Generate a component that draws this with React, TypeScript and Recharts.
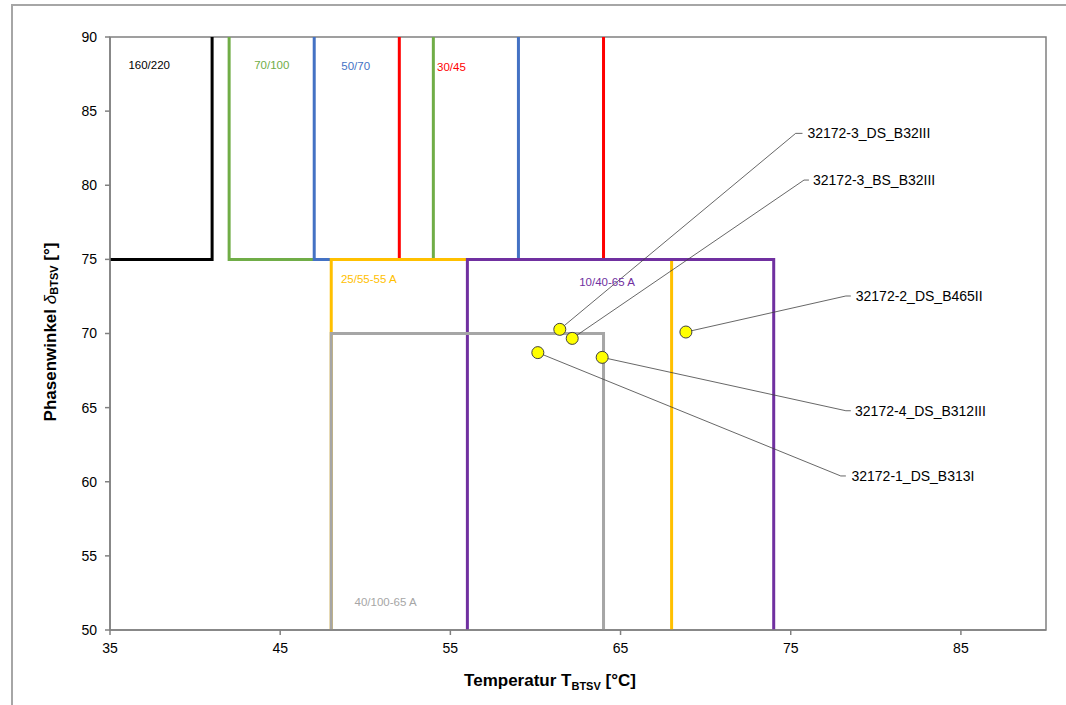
import React from 'react';
import { ComposedChart, Line, Scatter, XAxis, YAxis, ReferenceArea, Label } from 'recharts';

// ---- data ----
const xTicks = [35, 45, 55, 65, 75, 85];
const yTicks = [50, 55, 60, 65, 70, 75, 80, 85, 90];

// Grade boxes (temperature / phase angle outlines)
const box160_220 = [{ x: 35, y: 75 }, { x: 41, y: 75 }, { x: 41, y: 90 }];
const box70_100 = [{ x: 42, y: 90 }, { x: 42, y: 75 }, { x: 54, y: 75 }, { x: 54, y: 90 }];
const box50_70 = [{ x: 47, y: 90 }, { x: 47, y: 75 }, { x: 59, y: 75 }, { x: 59, y: 90 }];
const box30_45 = [{ x: 52, y: 90 }, { x: 52, y: 75 }, { x: 64, y: 75 }, { x: 64, y: 90 }];
const box25_55_55A = [{ x: 48, y: 50 }, { x: 48, y: 75 }, { x: 68, y: 75 }, { x: 68, y: 50 }];
const box10_40_65A = [{ x: 56, y: 50 }, { x: 56, y: 75 }, { x: 74, y: 75 }, { x: 74, y: 50 }];
const box40_100_65A = [{ x: 48, y: 50 }, { x: 48, y: 70 }, { x: 64, y: 70 }, { x: 64, y: 50 }];

const boxLabels = [
  { name: '160/220', x: 36.08, y: 88.11 },
  { name: '70/100', x: 43.47, y: 88.11 },
  { name: '50/70', x: 48.59, y: 88.07 },
  { name: '30/45', x: 54.22, y: 87.95 },
  { name: '25/55-55 A', x: 48.57, y: 73.65 },
  { name: '10/40-65 A', x: 62.57, y: 73.47 },
  { name: '40/100-65 A', x: 49.37, y: 51.91 },
];

// Samples
const samples = [
  { name: '32172-3_DS_B32III', x: 61.43, y: 70.28 },
  { name: '32172-3_BS_B32III', x: 62.16, y: 69.67 },
  { name: '32172-2_DS_B465II', x: 68.84, y: 70.1 },
  { name: '32172-4_DS_B312III', x: 63.92, y: 68.39 },
  { name: '32172-1_DS_B313I', x: 60.14, y: 68.71 },
];

// Label anchors for samples
const sampleLabels = [
  { name: '32172-3_DS_B32III', x: 75.98, y: 83.5 },
  { name: '32172-3_BS_B32III', x: 76.31, y: 80.35 },
  { name: '32172-2_DS_B465II', x: 78.82, y: 72.53 },
  { name: '32172-4_DS_B312III', x: 78.78, y: 64.79 },
  { name: '32172-1_DS_B313I', x: 78.57, y: 60.39 },
];

// Leader lines (point -> elbow -> end)
const leader1 = [{ x: 61.43, y: 70.28 }, { x: 75.29, y: 83.5 }, { x: 75.69, y: 83.5 }];
const leader2 = [{ x: 62.16, y: 69.67 }, { x: 75.78, y: 80.35 }, { x: 76.07, y: 80.35 }];
const leader3 = [{ x: 68.84, y: 70.1 }, { x: 78.24, y: 72.53 }, { x: 78.53, y: 72.53 }];
const leader4 = [{ x: 63.92, y: 68.39 }, { x: 78.24, y: 64.79 }, { x: 78.53, y: 64.79 }];
const leader5 = [{ x: 60.14, y: 68.71 }, { x: 77.94, y: 60.39 }, { x: 78.24, y: 60.39 }];

// ---- styles ----
const FONT = '"Liberation Sans", Arial, sans-serif';
const gradeColors: Record<string, string> = {
  '160/220': '#000000',
  '70/100': '#70AD47',
  '50/70': '#4472C4',
  '30/45': '#FF0000',
  '25/55-55 A': '#FFC000',
  '10/40-65 A': '#7030A0',
  '40/100-65 A': '#A6A6A6',
};

const boxes: { key: string; data: { x: number; y: number }[]; width: number }[] = [
  { key: '160/220', data: box160_220, width: 3 },
  { key: '70/100', data: box70_100, width: 3 },
  { key: '50/70', data: box50_70, width: 3 },
  { key: '30/45', data: box30_45, width: 3 },
  { key: '25/55-55 A', data: box25_55_55A, width: 3 },
  { key: '10/40-65 A', data: box10_40_65A, width: 3 },
  { key: '40/100-65 A', data: box40_100_65A, width: 3 },
];

const leaders = [leader1, leader2, leader3, leader4, leader5];

const BoxLabelShape = (props: any) => {
  const { cx, cy, payload } = props;
  return (
    <text x={cx} y={cy} dy="0.35em" textAnchor="start" fontSize={11.5} fontFamily={FONT} fill={gradeColors[payload.name]}>
      {payload.name}
    </text>
  );
};

const SampleLabelShape = (props: any) => {
  const { cx, cy, payload } = props;
  return (
    <text x={cx} y={cy} dy="0.35em" textAnchor="start" fontSize={14} fontFamily={FONT} fill="#000">
      {payload.name}
    </text>
  );
};

const PointShape = (props: any) => {
  const { cx, cy } = props;
  return <circle cx={cx} cy={cy} r={6} fill="#FFFF00" stroke="#404040" strokeWidth={1} />;
};

const XTitle = () => (
  <text x={550} y={686} textAnchor="middle" fontSize={17} fontWeight="bold" fontFamily={FONT} fill="#000">
    Temperatur T
    <tspan fontSize={11} dy={4}>BTSV</tspan>
    <tspan dy={-4}> [°C]</tspan>
  </text>
);

const YTitle = () => (
  <text
    x={50}
    y={332}
    transform="rotate(-90, 50, 332)"
    textAnchor="middle"
    dominantBaseline="central"
    fontSize={17}
    fontWeight="bold"
    fontFamily={FONT}
    fill="#000"
  >
    Phasenwinkel <tspan fontStyle="italic" fontWeight="normal">δ</tspan>
    <tspan fontSize={11} dy={4}>BTSV</tspan>
    <tspan dy={-4}> [°]</tspan>
  </text>
);

export default function App() {
  return (
    <div style={{ position: 'fixed', left: 0, top: 0, width: 1066, height: 705, overflow: 'hidden', background: '#fff' }}>
      <div
        style={{
          position: 'absolute',
          left: 11,
          top: 4,
          width: 1200,
          height: 800,
          borderLeft: '2px solid #A6A6A6',
          borderTop: '2px solid #A6A6A6',
        }}
      />
      <div style={{ position: 'absolute', left: 0, top: 0 }}>
        <ComposedChart width={1066} height={705} margin={{ top: 37, right: 20, bottom: 45, left: 50 }}>
          <XAxis
            type="number"
            dataKey="x"
            domain={[35, 90]}
            ticks={xTicks}
            allowDataOverflow
            height={30}
            stroke="#808080"
            strokeWidth={1.5}
            tickSize={5}
            tickMargin={8}
            tick={{ fill: '#000', fontSize: 14, fontFamily: FONT }}
          >
            <Label content={XTitle} />
          </XAxis>
          <YAxis
            type="number"
            dataKey="y"
            domain={[50, 90]}
            ticks={yTicks}
            allowDataOverflow
            width={60}
            stroke="#808080"
            strokeWidth={1.5}
            tickSize={5}
            tickMargin={8}
            tick={{ fill: '#000', fontSize: 14, fontFamily: FONT }}
          >
            <Label content={YTitle} />
          </YAxis>
          <ReferenceArea x1={35} x2={90} y1={50} y2={90} fill="none" fillOpacity={0} stroke="#808080" strokeWidth={1.5} />
          {boxes.map((b) => (
            <Line
              key={b.key}
              data={b.data}
              dataKey="y"
              type="linear"
              stroke={gradeColors[b.key]}
              strokeWidth={b.width}
              strokeLinejoin="miter"
              dot={false}
              activeDot={false}
              legendType="none"
              isAnimationActive={false}
            />
          ))}
          <Scatter data={boxLabels} shape={BoxLabelShape} isAnimationActive={false} legendType="none" />
          {leaders.map((l, i) => (
            <Line
              key={'leader' + i}
              data={l}
              dataKey="y"
              type="linear"
              stroke="#404040"
              strokeWidth={0.8}
              dot={false}
              activeDot={false}
              legendType="none"
              isAnimationActive={false}
            />
          ))}
          <Scatter data={samples} shape={PointShape} isAnimationActive={false} legendType="none" />
          <Scatter data={sampleLabels} shape={SampleLabelShape} isAnimationActive={false} legendType="none" />
        </ComposedChart>
      </div>
    </div>
  );
}
